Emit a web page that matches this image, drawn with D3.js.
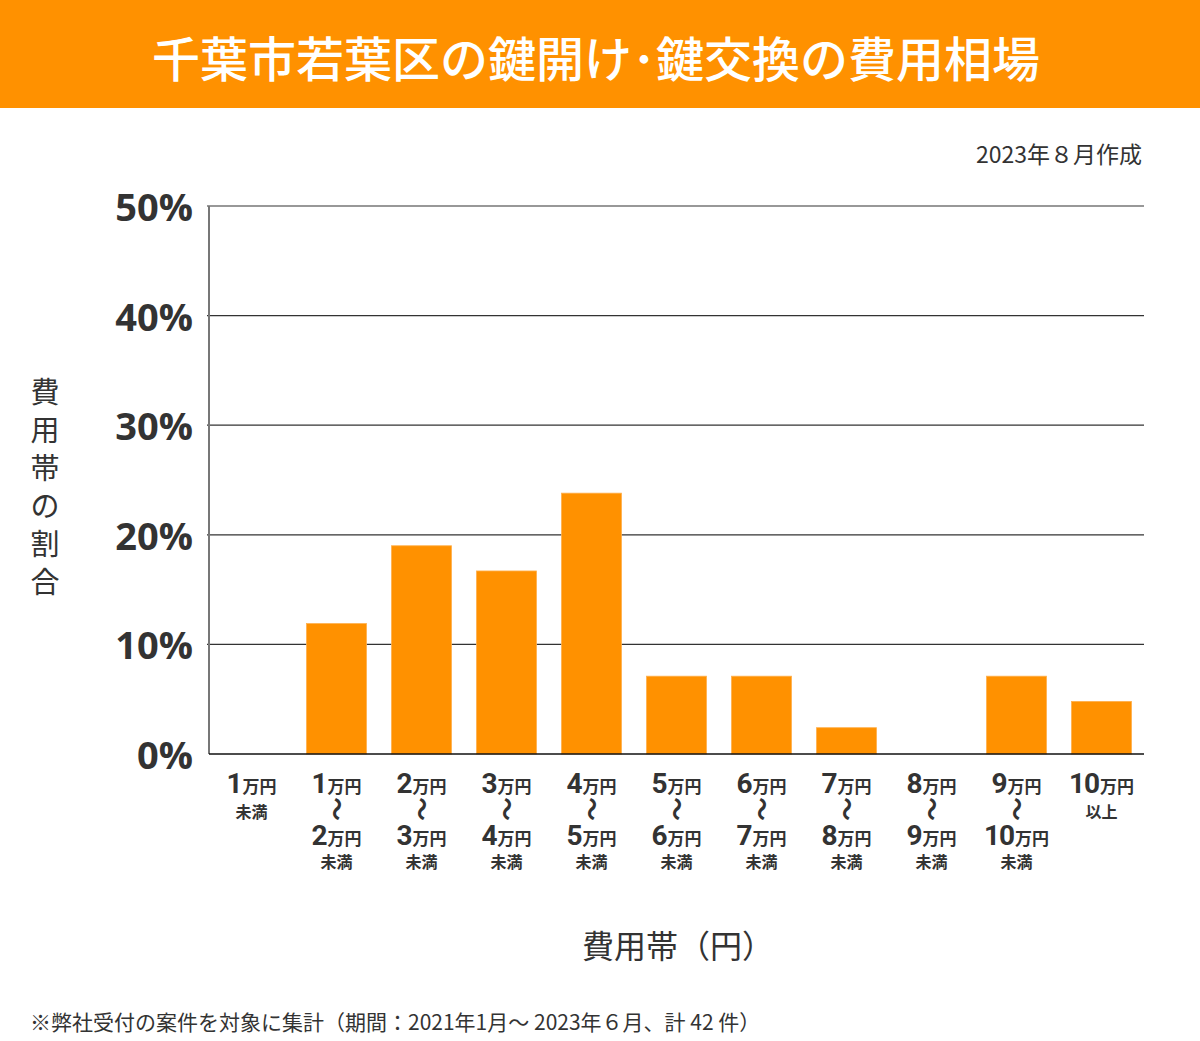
<!DOCTYPE html>
<html><head><meta charset="utf-8">
<script src="https://cdn.jsdelivr.net/npm/d3@7"></script>
<style>
body{margin:0;background:#fff;}
svg{display:block;font-family:"Noto Sans CJK JP","Noto Sans",sans-serif;}
</style></head>
<body><svg id="c" width="1200" height="1041"></svg>
<script>
const title = "千葉市若葉区の鍵開け･鍵交換の費用相場";
const dateNote = "2023年８月作成";
const yTitle = ["費","用","帯","の","割","合"];
const xTitle = "費用帯（円）";
const footnote = "※弊社受付の案件を対象に集計（期間：2021年1月～ 2023年６月、計 42 件）";
// category label parts
const catFrom = ["1","1","2","3","4","5","6","7","8","9","10"];
const catTo   = [null,"2","3","4","5","6","7","8","9","10",null];
const catSuffix = ["未満","未満","未満","未満","未満","未満","未満","未満","未満","未満","以上"];
const values = [0, 11.9, 19.0, 16.7, 23.8, 7.1, 7.1, 2.4, 0, 7.1, 4.8];
const yTicks = [0,10,20,30,40,50];

(function(){
const svg = d3.select("#c");
const W=1200;
const orange="#FF9100";
svg.append("rect").attr("x",0).attr("y",0).attr("width",W).attr("height",108).attr("fill",orange);
svg.append("text").attr("x",596).attr("y",77).attr("text-anchor","middle").attr("fill","#fff")
  .attr("font-size",48).attr("font-weight",500).text(title);
svg.append("text").attr("x",1142).attr("y",163).attr("text-anchor","end").attr("fill","#333")
  .attr("font-size",23).text(dateNote);

const pL=209,pR=1144,pT=206,pB=754;
const x=d3.scaleBand().domain(d3.range(values.length)).range([pL,pR]).paddingInner(0.294).paddingOuter(0.147);
const y=d3.scaleLinear().domain([0,50]).range([pB,pT]);

svg.append("g").selectAll("line").data(yTicks.filter(d=>d>0)).join("line")
  .attr("x1",pL-2).attr("x2",pR).attr("y1",d=>y(d)).attr("y2",d=>y(d))
  .attr("stroke","#333").attr("stroke-width",1.2);
svg.append("g").selectAll("text").data(yTicks).join("text")
  .attr("x",193).attr("y",d=>y(d)+15).attr("text-anchor","end")
  .attr("font-family","'Open Sans','Noto Sans',sans-serif")
  .attr("font-size",38).attr("font-weight",700).attr("fill","#333").text(d=>d+"%");

svg.append("g").selectAll("rect").data(values).join("rect")
  .attr("x",(d,i)=>x(i)).attr("width",x.bandwidth())
  .attr("y",d=>y(d)).attr("height",d=>pB-y(d))
  .attr("fill",orange).attr("stroke","#FFB04D").attr("stroke-width",0.8);

svg.append("line").attr("x1",pL).attr("x2",pL).attr("y1",pT).attr("y2",pB)
  .attr("stroke","#777").attr("stroke-width",2);
svg.append("line").attr("x1",pL).attr("x2",pR).attr("y1",pB).attr("y2",pB)
  .attr("stroke","#111").attr("stroke-width",1.5);

const numFont="'Liberation Sans Narrow','Roboto',sans-serif";
const lab=svg.append("g").attr("fill","#333");
function amount(g,cx,base,num){
  const t=g.append("text").attr("x",cx).attr("y",base).attr("text-anchor","middle").attr("font-weight",700);
  t.append("tspan").attr("font-family",numFont).attr("font-size",28).attr("letter-spacing",-1).text(num);
  t.append("tspan").attr("font-size",17).attr("dx",1).text("万円");
}
values.forEach((v,i)=>{
  const cx=x(i)+x.bandwidth()/2;
  const g=lab.append("g");
  amount(g,cx,793,catFrom[i]);
  if(catTo[i]===null){
    g.append("text").attr("x",cx).attr("y",818).attr("text-anchor","middle").attr("font-size",16).attr("font-weight",700).text(catSuffix[i]);
  } else {
    g.append("text").attr("transform",`translate(${cx},809) rotate(90)`).attr("text-anchor","middle")
      .attr("dy","0.35em").attr("font-size",24).attr("font-weight",700).text("〜");
    amount(g,cx,845,catTo[i]);
    g.append("text").attr("x",cx).attr("y",868).attr("text-anchor","middle").attr("font-size",16).attr("font-weight",700).text(catSuffix[i]);
  }
});

svg.append("g").selectAll("text").data(yTitle).join("text")
  .attr("x",45).attr("y",(d,i)=>403+i*38).attr("text-anchor","middle")
  .attr("font-size",29).attr("fill","#333").text(d=>d);
svg.append("text").attr("x",678).attr("y",958).attr("text-anchor","middle")
  .attr("font-size",32).attr("fill","#333").text(xTitle);
svg.append("text").attr("x",30).attr("y",1030).attr("font-size",21).attr("fill","#333").text(footnote);
})();
</script></body></html>
